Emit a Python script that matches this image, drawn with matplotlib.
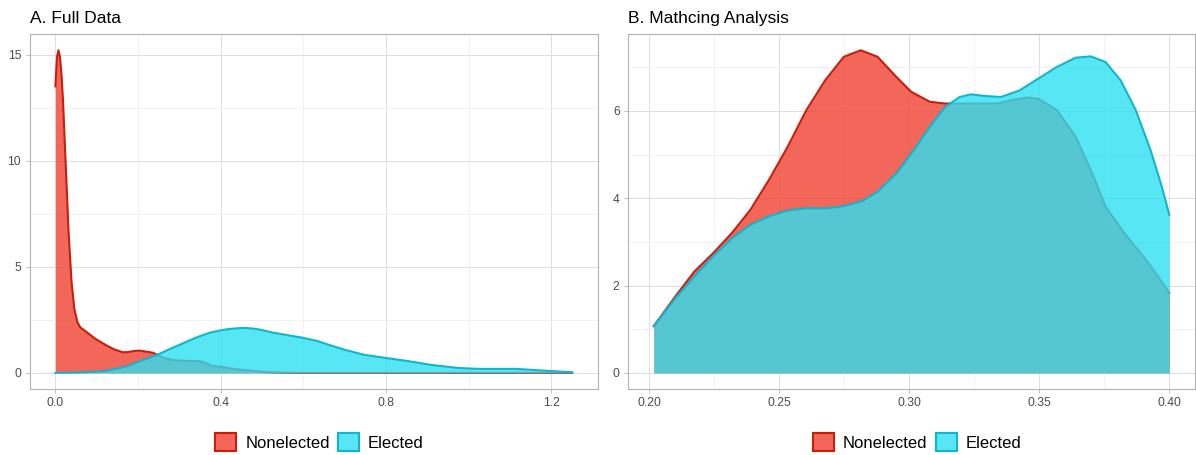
import matplotlib.pyplot as plt
from matplotlib.patches import Patch

plt.rcParams['font.family'] = ['Liberation Sans', 'DejaVu Sans']

# Panel A: full data (densities)
full_x_non = [0, 0.004, 0.0074, 0.011, 0.015, 0.0185, 0.025, 0.032, 0.039, 0.046,
              0.053, 0.06, 0.075, 0.097, 0.123, 0.143, 0.163, 0.176, 0.19, 0.203,
              0.22, 0.236, 0.252, 0.268, 0.284, 0.316, 0.348, 0.364, 0.38, 0.404,
              0.429, 0.461, 0.509, 0.55, 0.6, 0.8, 1.0, 1.25]
full_y_non = [13.5, 14.9, 15.2, 14.9, 14.0, 12.8, 9.8, 6.6, 4.3, 3.0,
              2.4, 2.15, 1.93, 1.6, 1.3, 1.1, 0.97, 0.98, 1.03, 1.05,
              1.0, 0.95, 0.8, 0.68, 0.6, 0.56, 0.56, 0.47, 0.32, 0.28,
              0.19, 0.13, 0.04, 0.01, 0.0, 0.0, 0.0, 0.0]
full_x_el = [0, 0.05, 0.097, 0.123, 0.143, 0.171, 0.19, 0.228, 0.252, 0.282,
             0.300, 0.328, 0.348, 0.375, 0.404, 0.421, 0.445, 0.458, 0.477, 0.495,
             0.525, 0.555, 0.597, 0.634, 0.665, 0.698, 0.745, 0.8, 0.855, 0.911,
             0.976, 1.022, 1.07, 1.114, 1.179, 1.25]
full_y_el = [0, 0.02, 0.06, 0.1, 0.18, 0.3, 0.45, 0.72, 0.9, 1.17,
             1.32, 1.56, 1.72, 1.9, 2.02, 2.07, 2.11, 2.12, 2.09, 2.04,
             1.9, 1.8, 1.66, 1.5, 1.3, 1.1, 0.86, 0.7, 0.55, 0.37,
             0.23, 0.19, 0.19, 0.19, 0.11, 0.03]

# Panel B: matching analysis
match_x_non = [0.2017, 0.21, 0.2173, 0.2245, 0.2317, 0.2388, 0.246, 0.2532, 0.2604, 0.2676,
               0.2748, 0.2813, 0.2878, 0.295, 0.3007, 0.3079, 0.3137, 0.3252, 0.3338, 0.3396,
               0.3453, 0.3496, 0.3568, 0.364, 0.3698, 0.3755, 0.3827, 0.39, 0.3957, 0.40]
match_y_non = [1.07, 1.75, 2.32, 2.74, 3.2, 3.73, 4.42, 5.18, 6.02, 6.70,
               7.24, 7.39, 7.24, 6.78, 6.44, 6.21, 6.17, 6.17, 6.17, 6.25,
               6.31, 6.28, 6.02, 5.41, 4.65, 3.81, 3.2, 2.67, 2.21, 1.83]
match_x_el = [0.2017, 0.21, 0.2173, 0.2245, 0.2317, 0.2388, 0.246, 0.2532, 0.2604, 0.2676,
              0.2748, 0.282, 0.2878, 0.295, 0.3022, 0.3079, 0.3137, 0.3194, 0.3237, 0.3295,
              0.3353, 0.3424, 0.3496, 0.3568, 0.364, 0.3698, 0.3755, 0.3813, 0.3871, 0.3928,
              0.3971, 0.40]
match_y_el = [1.07, 1.71, 2.21, 2.67, 3.08, 3.39, 3.59, 3.72, 3.77, 3.77,
              3.82, 3.94, 4.15, 4.57, 5.14, 5.64, 6.09, 6.32, 6.38, 6.34,
              6.32, 6.47, 6.74, 7.01, 7.22, 7.25, 7.12, 6.70, 6.02, 5.10,
              4.27, 3.62]

groups = ['Nonelected', 'Elected']
fill_colors = ['#F14031', '#2DE0F2']
line_colors = ['#C81E0C', '#12B5CB']


def draw_panel(ax, title, series, xticks, xminor, yticks, yminor, xlim, ylim):
    ax.set_xlim(*xlim)
    ax.set_ylim(*ylim)
    ax.set_xticks(xticks)
    ax.set_xticks(xminor, minor=True)
    ax.set_yticks(yticks)
    ax.set_yticks(yminor, minor=True)
    ax.grid(True, which='major', color='#DEDEDE', linewidth=0.7)
    ax.grid(True, which='minor', color='#EBEBEB', linewidth=0.5)
    ax.set_axisbelow(True)
    # each group: fill then outline, second group stacked over the first
    for i, ((x, y), fc, lc) in enumerate(zip(series, fill_colors, line_colors)):
        ax.fill_between(x, y, 0, color=fc, alpha=0.8, linewidth=0, zorder=1 + i)
        ax.plot(x, y, color=lc, linewidth=1.5, zorder=1.5 + i)
    for s in ax.spines.values():
        s.set_color('#B3B3B3')
        s.set_linewidth(0.8)
        s.set_zorder(5)
    ax.tick_params(which='major', length=3, width=0.6, color='#B3B3B3',
                   labelsize=8.8, labelcolor='#4D4D4D', pad=3)
    ax.tick_params(which='minor', length=0)
    ax.set_title(title, loc='left', fontsize=12.5, pad=8)
    handles = [Patch(facecolor=fc, edgecolor=lc, linewidth=1.5, label=g)
               for g, fc, lc in zip(groups, ['#F46658', '#57E6F5'], line_colors)]
    ax.legend(handles=handles, loc='center', bbox_to_anchor=(0.51, -0.149),
              ncol=2, frameon=False, fontsize=12, handlelength=1.25,
              handleheight=1.25, handletextpad=0.55, columnspacing=0.5)


fig = plt.figure(figsize=(11.96, 4.55), dpi=100)
ax1 = fig.add_axes([0.0247, 0.145, 0.4753, 0.780])
ax2 = fig.add_axes([0.5251, 0.145, 0.4741, 0.780])

draw_panel(ax1, 'A. Full Data',
           [(full_x_non, full_y_non), (full_x_el, full_y_el)],
           [0.0, 0.4, 0.8, 1.2], [0.2, 0.6, 1.0],
           [0, 5, 10, 15], [2.5, 7.5, 12.5],
           (-0.0625, 1.3125), (-0.76, 15.96))
draw_panel(ax2, 'B. Mathcing Analysis',
           [(match_x_non, match_y_non), (match_x_el, match_y_el)],
           [0.20, 0.25, 0.30, 0.35, 0.40], [0.225, 0.275, 0.325, 0.375],
           [0, 2, 4, 6], [1, 3, 5, 7],
           (0.1918, 0.4099), (-0.37, 7.76))
ax1.set_xticklabels(['0.0', '0.4', '0.8', '1.2'])
ax2.set_xticklabels(['0.20', '0.25', '0.30', '0.35', '0.40'])

fig.savefig('out.png', dpi=100)
